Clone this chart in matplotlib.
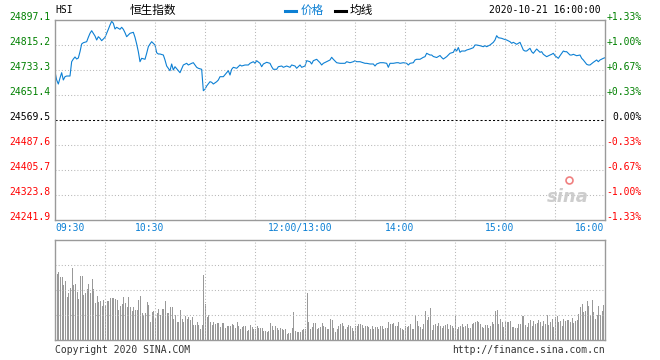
import numpy as np
import matplotlib
matplotlib.use("Agg")
import matplotlib.pyplot as plt
from matplotlib.lines import Line2D
from matplotlib.transforms import ScaledTranslation

# HSI intraday, 2020-10-21
# time is trading minutes after 09:30 (the 12:00-13:00 lunch break is left out)
price_min = [0, 1, 2, 3, 4, 5, 6, 7, 9, 10, 11, 12, 13, 14, 15, 16, 17, 19, 20, 21,
             22, 23, 24, 25, 26, 27, 28, 30, 31, 32, 33, 34, 35, 36, 37, 39, 40, 41, 42, 43,
             44, 45, 47, 48, 49, 50, 51, 52, 54, 55, 56, 57, 58, 60, 61, 62, 63, 65, 66, 67,
             68, 69, 70, 71, 72, 74, 75, 77, 79, 80, 82, 83, 85, 86, 88, 89, 90, 91, 93, 94,
             95, 97, 98, 99, 101, 103, 104, 105, 106, 107, 109, 111, 112, 114, 116, 117, 119, 120, 121, 123,
             124, 125, 127, 129, 130, 131, 133, 134, 136, 137, 139, 141, 142, 144, 145, 147, 148, 150, 151, 153,
             154, 155, 157, 159, 160, 161, 163, 165, 166, 167, 169, 171, 173, 174, 175, 177, 179, 180, 181, 183,
             185, 186, 187, 189, 191, 192, 193, 195, 197, 199, 200, 201, 203, 205, 206, 207, 209, 211, 212, 213,
             215, 216, 217, 219, 221, 222, 223, 225, 226, 227, 229, 231, 232, 233, 235, 236, 237, 239, 240, 241,
             242, 243, 244, 246, 247, 249, 251, 252, 253, 255, 257, 258, 259, 261, 263, 264, 265, 266, 268, 269,
             271, 273, 274, 275, 277, 278, 279, 281, 282, 283, 285, 286, 287, 289, 291, 292, 293, 295, 297, 298,
             299, 300, 302, 303, 305, 306, 307, 309, 310, 311, 313, 315, 316, 317, 319, 320, 321, 323, 325, 326,
             327, 329, 330]
price = [24727.7, 24700.5, 24687.4, 24707.1, 24724.5, 24700.5, 24711.4, 24713.6, 24713.6, 24760.5,
         24769.3, 24775.9, 24769.3, 24772.6, 24793.3, 24818.5, 24822.7, 24826.0, 24840.4, 24853.5,
         24862.0, 24853.5, 24844.7, 24831.6, 24842.4, 24837.1, 24829.3, 24840.4, 24853.5, 24866.6,
         24880.7, 24892.8, 24886.3, 24867.6, 24873.2, 24866.6, 24873.2, 24866.6, 24855.5, 24842.4,
         24848.0, 24853.5, 24856.8, 24840.4, 24818.5, 24793.3, 24760.5, 24771.6, 24768.4, 24788.0,
         24809.6, 24818.5, 24826.0, 24815.2, 24790.0, 24785.7, 24785.7, 24782.4, 24766.1, 24746.4,
         24738.9, 24731.0, 24753.0, 24733.3, 24744.1, 24731.0, 24724.5, 24749.7, 24755.2, 24749.7,
         24755.2, 24757.2, 24742.1, 24738.9, 24735.6, 24665.5, 24670.1, 24680.9, 24695.0, 24693.0,
         24687.4, 24695.0, 24700.5, 24711.4, 24711.4, 24724.5, 24731.0, 24716.9, 24735.6, 24742.1,
         24738.9, 24749.7, 24746.4, 24749.7, 24749.7, 24755.2, 24760.5, 24755.2, 24763.8, 24755.2,
         24744.1, 24753.0, 24758.5, 24755.2, 24744.1, 24735.6, 24735.6, 24744.1, 24746.4, 24742.1,
         24746.4, 24742.1, 24749.7, 24746.4, 24738.9, 24749.7, 24742.1, 24746.4, 24763.8, 24760.5,
         24753.0, 24763.8, 24768.4, 24757.2, 24749.7, 24755.2, 24760.5, 24766.1, 24774.9, 24768.4,
         24757.2, 24755.2, 24755.2, 24755.2, 24760.5, 24757.2, 24760.5, 24763.8, 24760.5, 24760.5,
         24757.2, 24755.2, 24755.2, 24753.0, 24753.0, 24746.4, 24753.0, 24757.2, 24757.2, 24755.2,
         24742.1, 24755.2, 24755.2, 24757.2, 24757.2, 24755.2, 24757.2, 24755.2, 24749.7, 24755.2,
         24757.2, 24766.1, 24768.4, 24768.4, 24774.9, 24776.9, 24788.0, 24782.4, 24782.4, 24777.5,
         24774.2, 24780.8, 24774.2, 24769.3, 24776.9, 24782.4, 24788.0, 24791.3, 24802.1, 24795.5,
         24807.0, 24791.3, 24795.5, 24795.5, 24798.8, 24802.1, 24806.4, 24815.2, 24815.2, 24812.9,
         24809.6, 24812.9, 24809.6, 24815.2, 24824.0, 24831.6, 24845.7, 24839.1, 24837.1, 24834.9,
         24831.6, 24826.0, 24820.8, 24824.0, 24817.5, 24820.8, 24824.0, 24798.8, 24795.5, 24795.5,
         24804.4, 24793.3, 24788.0, 24802.1, 24791.3, 24793.3, 24784.7, 24776.9, 24782.4, 24784.7,
         24788.0, 24780.1, 24771.6, 24780.1, 24795.5, 24793.3, 24793.3, 24782.4, 24782.4, 24784.7,
         24780.1, 24782.4, 24771.6, 24766.1, 24752.0, 24749.7, 24749.7, 24758.5, 24766.1, 24760.5,
         24766.1, 24771.6, 24773.6]

# volume per minute (relative units, panel top = 100), minutes 1..330
vol = [66, 68, 63, 63, 55, 59, 43, 47, 52, 72, 55, 56, 48, 41, 64, 64, 45, 47, 51, 56,
       47, 61, 51, 37, 44, 38, 39, 34, 40, 35, 39, 39, 42, 42, 42, 41, 40, 30, 34, 36,
       43, 37, 33, 43, 33, 29, 33, 30, 30, 40, 44, 27, 25, 27, 38, 35, 18, 28, 29, 22,
       27, 31, 25, 31, 31, 39, 27, 27, 33, 33, 21, 25, 18, 18, 30, 21, 18, 24, 21, 23,
       20,
       23, 15, 15, 18, 15, 11, 15, 65, 36, 23, 25, 18, 15, 18, 16, 17, 17, 13, 17, 17,
       12, 14, 14, 14, 16, 15, 12, 18, 14, 11, 13, 14, 14, 9, 10, 15, 13, 11, 11, 14,
       12, 12, 12, 9, 9, 8, 9, 17, 14, 10, 14, 12, 10, 12, 11, 10, 11, 6, 7, 7,
       12, 28, 9, 8, 8, 8, 10, 11, 11, 47, 18, 11, 13, 17, 17, 11, 12, 13, 17, 14,
       13, 11, 11,
       21, 20, 12, 8, 11, 14, 16, 17, 14, 11, 13, 15, 14, 12, 9, 14, 14, 16, 16, 15,
       12, 14, 14, 13, 11, 14, 11, 13, 13, 11, 14, 14, 11, 12, 12, 18, 16, 16, 17, 14,
       14, 18, 12, 11, 10, 14, 13, 14, 16, 11, 11, 25, 19, 14, 13, 11, 16, 29, 20, 23,
       32, 10, 15, 16, 14, 17, 14, 12, 14, 15, 16, 11, 15, 14, 12, 24, 11, 13, 14, 16,
       13, 14, 16,
       12, 12, 16, 17, 18, 19, 18, 16, 13, 12, 15, 15, 12, 14, 18, 16, 29, 30, 16, 21,
       18, 13, 18, 18, 18, 19, 13, 13, 12, 12, 16, 16, 24, 24, 15, 13, 17, 20, 14, 19,
       16, 17, 20, 18, 14, 19, 16, 25, 15, 18, 21, 13, 23, 24, 18, 19, 14, 21, 19, 20,
       20, 18, 22, 17, 19, 20, 26, 33, 36, 28, 29, 39, 34, 25, 40, 28, 21, 25, 34, 25,
       29, 35, 48]

prev_close = 24569.5
levels = [24897.1, 24815.2, 24733.3, 24651.4, 24569.5, 24487.6, 24405.7, 24323.8, 24241.9]
time_ticks = [0, 60, 150, 210, 270, 330]
time_labels = ["09:30", "10:30", "12:00/13:00", "14:00", "15:00", "16:00"]

MONO = "DejaVu Sans Mono"
CJK = ["Noto Sans CJK SC", "DejaVu Sans"]
BLUE = "#0d80d4"
GREEN = "#008000"
RED = "#ff0000"
FRAME = "#9a9a9a"
GRIDC = "#b8b8b8"


def level_color(v):
    if v > prev_close + 0.01:
        return GREEN
    if v < prev_close - 0.01:
        return RED
    return "black"


def style_panel(ax):
    for s in ax.spines.values():
        s.set_color(FRAME)
        s.set_linewidth(1.0)
        s.set_zorder(5)
    ax.set_xticks([])
    ax.set_yticks([])
    ax.set_xlim(0, 330)
    # 30 minute grid, on top of the bars like sina does
    for m in np.arange(30, 330, 30):
        ax.axvline(m, color=GRIDC, lw=0.75, ls=(0, (1, 2)), zorder=4)


fig = plt.figure(figsize=(6.6, 3.6), dpi=100)

def fx(px):
    return px / 660

def fy(py):
    return 1 - py / 360

# price panel
ax = fig.add_axes([fx(55), fy(220), fx(550), 200 / 360])
style_panel(ax)
ax.set_ylim(levels[-1], levels[0])
for v in levels[1:-1]:
    if v == prev_close:
        ax.axhline(v, color="black", lw=0.75, ls=(0, (2, 2)), zorder=1)
    else:
        ax.axhline(v, color=GRIDC, lw=0.75, ls=(0, (1, 2)), zorder=0)
ax.plot(price_min, price, color=BLUE, lw=0.8, zorder=3)

ytr = ax.get_yaxis_transform()
for v in levels:
    c = level_color(v)
    pct = (v - prev_close) / prev_close * 100
    ptxt = "0.00%" if abs(pct) < 0.005 else f"{pct:+.2f}%"
    ax.text(-0.008, v, f"{v:.1f}", transform=ytr, ha="right", va="baseline",
            fontsize=7, family=MONO, color=c, clip_on=False)
    ax.text(1.067, v, ptxt, transform=ytr, ha="right", va="baseline",
            fontsize=7, family=MONO, color=c, clip_on=False)

# time labels, sina draws them a few px left of the grid line
xtr = ax.get_xaxis_transform()
for i, (m, lab) in enumerate(zip(time_ticks, time_labels)):
    if i == 0:
        ha, dx = "left", 0
    elif i == len(time_ticks) - 1:
        ha, dx = "right", -1
    else:
        ha, dx = "center", -5
    tr = xtr + ScaledTranslation(dx / 100, -8 / 100, fig.dpi_scale_trans)
    ax.text(m, 0, lab, transform=tr, ha=ha, va="center", fontsize=7,
            family=MONO, color=BLUE, clip_on=False)

# sina watermark
ax.text(0.97, 0.07, "sina", transform=ax.transAxes, ha="right", va="bottom",
        fontsize=13, style="italic", weight="bold", color="#c8c8c8", alpha=0.9)
ax.plot([0.935], [0.2], "o", transform=ax.transAxes, ms=5, mfc="none",
        mec="#f08080", mew=1.2)

# volume panel
axv = fig.add_axes([fx(55), fy(340), fx(550), 100 / 360])
style_panel(axv)
axv.set_ylim(0, 100)
for v in (25, 50, 75):
    axv.axhline(v, color=GRIDC, lw=0.75, ls=(0, (1, 2)), zorder=4)
vol_min = np.arange(1, len(vol) + 1)
axv.vlines(vol_min, 0, vol, color="#999999", lw=0.55, antialiased=False, zorder=2)

# header
fig.text(fx(55), fy(10), "HSI", fontsize=7, family=MONO, va="center")
fig.text(fx(130), fy(10), "恒生指数", fontsize=8.4, family=CJK, va="center")
fig.add_artist(Line2D([fx(285), fx(296)], [fy(11), fy(11)], color=BLUE, lw=2.2))
fig.text(fx(301), fy(10), "价格", fontsize=8.4, family=CJK, va="center", color=BLUE)
fig.add_artist(Line2D([fx(335), fx(346)], [fy(11), fy(11)], color="black", lw=2.2))
fig.text(fx(350), fy(10), "均线", fontsize=8.4, family=CJK, va="center")
fig.text(fx(601), fy(10), "2020-10-21 16:00:00", fontsize=7, family=MONO,
         va="center", ha="right")

# footer
fig.text(fx(55), fy(350), "Copyright 2020 SINA.COM", fontsize=7, family=MONO,
         va="center", color="#333333")
fig.text(fx(605), fy(350), "http://finance.sina.com.cn", fontsize=7, family=MONO,
         va="center", ha="right", color="#333333")

fig.savefig("out.png", dpi=100)
